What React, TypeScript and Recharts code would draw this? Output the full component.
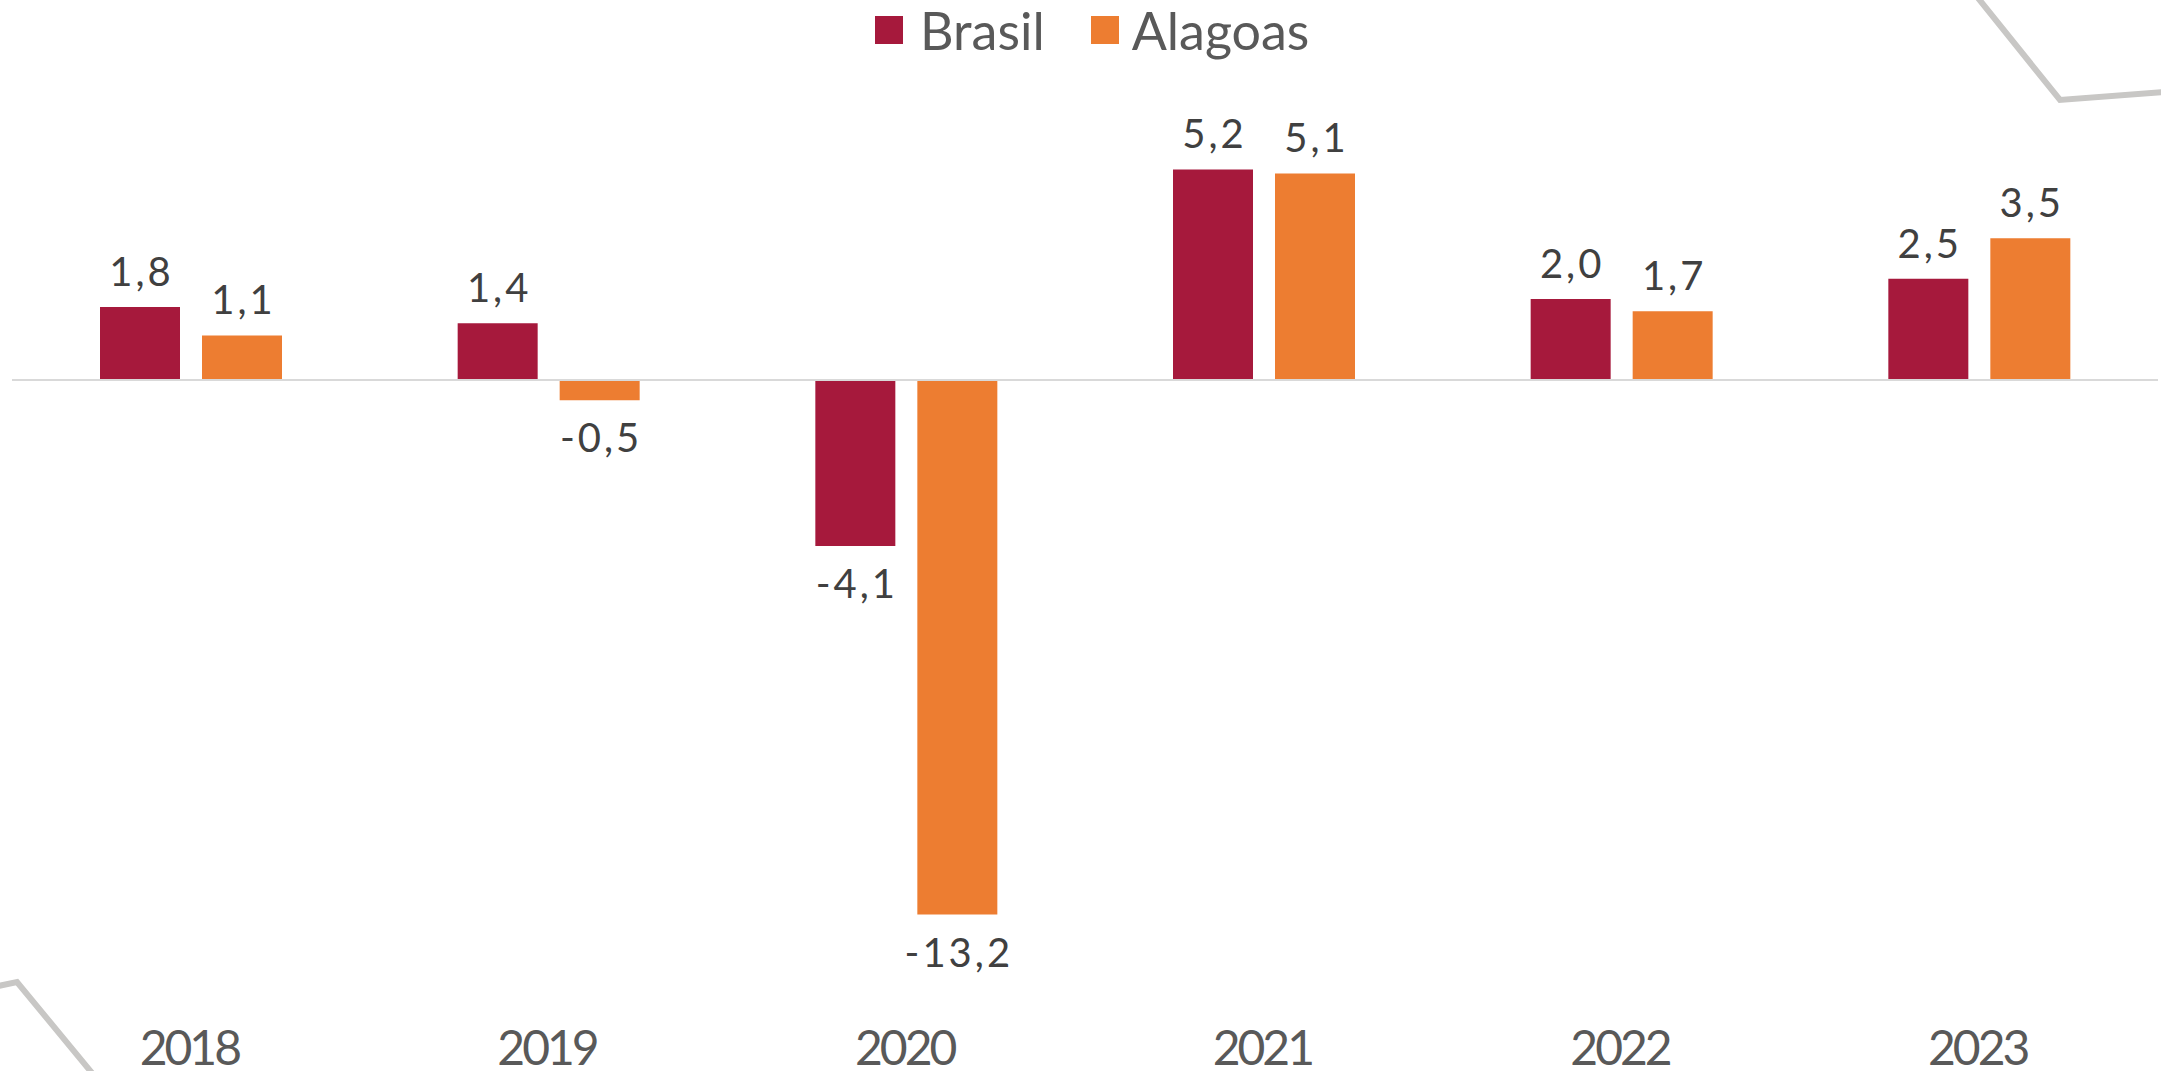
import { Bar, BarChart, LabelList, Legend, ReferenceLine, XAxis, YAxis } from "recharts";

const years = ["2018", "2019", "2020", "2021", "2022", "2023"];
const brasil = [1.8, 1.4, -4.1, 5.2, 2.0, 2.5];
const alagoas = [1.1, -0.5, -13.2, 5.1, 1.7, 3.5];

const seriesNames = ["Brasil", "Alagoas"];
const seriesColors = ["#A6193C", "#ED7D31"];

const chartData = years.map((year, i) => ({
    year,
    brasil: brasil[i],
    alagoas: alagoas[i],
}));

const formatValue = (v: number) => v.toFixed(1).replace(".", ",");

// value label above positive bars, below negative ones
const renderValueLabel = (props: any) => {
    const { x, y, width, height, value } = props;
    const top = Math.min(y, y + height);
    const bottom = Math.max(y, y + height);
    const cx = x + width / 2 + 1.5;
    const ty = value >= 0 ? top - 21 : bottom + 52;
    return (
        <text x={cx} y={ty} textAnchor="middle" fill="#404040" fontSize={40} fontFamily="Lato" letterSpacing={3}>
            {formatValue(value)}
        </text>
    );
};

const renderYearTick = (props: any) => {
    const { x, y, payload } = props;
    return (
        <text x={x - 1.5} y={y} textAnchor="middle" fill="#595959" fontSize={48} fontFamily="Lato" letterSpacing={-3}>
            {payload.value}
        </text>
    );
};

const renderLegend = () => (
    <div style={{ display: "flex", alignItems: "center", fontFamily: "Lato", fontSize: 52, color: "#595959", lineHeight: "60px" }}>
        {seriesNames.map((name, i) => (
            <div key={name} style={{ display: "flex", alignItems: "center", marginRight: i === 0 ? 46 : 0 }}>
                <span style={{ display: "inline-block", width: 28, height: 28, background: seriesColors[i], marginRight: i === 0 ? 17 : 13 }} />
                <span>{name}</span>
            </div>
        ))}
    </div>
);

function App() {
    return (
        <div style={{ position: "relative", width: 2161, height: 1071, background: "#fff" }}>
            <style>{"body{margin:0}"}</style>
            <svg width={2161} height={1071} style={{ position: "absolute", left: 0, top: 0 }}>
                <polyline points="1978,-2 2060,100 2163,92" fill="none" stroke="#C8C7C5" strokeWidth={6} />
                <polyline points="-2,986 17,982 92,1073" fill="none" stroke="#C8C7C5" strokeWidth={6} />
            </svg>
            <div style={{ position: "absolute", left: 0, top: 0 }}>
                <BarChart
                    width={2161}
                    height={1071}
                    data={chartData}
                    margin={{ top: 96.5, right: 3, bottom: 0, left: 12 }}
                    barSize={80}
                    barGap={22}
                >
                    <XAxis
                        dataKey="year"
                        axisLine={false}
                        tickLine={false}
                        tickSize={0}
                        tickMargin={118}
                        height={124}
                        tick={renderYearTick}
                        interval={0}
                    />
                    <YAxis hide domain={[-14, 7]} allowDataOverflow />
                    <ReferenceLine y={0} stroke="#D9D9D9" strokeWidth={2} />
                    <Legend
                        verticalAlign="middle"
                        align="center"
                        content={renderLegend}
                        wrapperStyle={{ top: 0, left: 875, width: "auto" }}
                    />
                    <Bar dataKey="brasil" name="Brasil" fill={seriesColors[0]} isAnimationActive={false}>
                        <LabelList dataKey="brasil" content={renderValueLabel} />
                    </Bar>
                    <Bar dataKey="alagoas" name="Alagoas" fill={seriesColors[1]} isAnimationActive={false}>
                        <LabelList dataKey="alagoas" content={renderValueLabel} />
                    </Bar>
                </BarChart>
            </div>
        </div>
    );
}

export default App;
